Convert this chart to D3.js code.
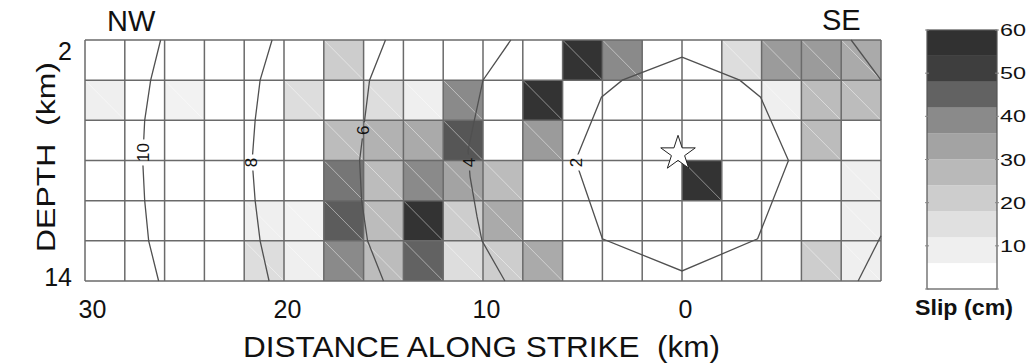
<!DOCTYPE html>
<html><head><meta charset="utf-8">
<script src="https://cdn.jsdelivr.net/npm/d3@7"></script>
<style>
html,body{margin:0;padding:0;background:#fff;}
svg{display:block;}
text{font-family:"Liberation Sans",Arial,Helvetica,sans-serif;fill:#111;}
.pre{white-space:pre;}
</style></head><body>
<svg id="chart" width="1028" height="363"></svg>
<script>
// ---- data ----
const colCenters = [29,27,25,23,21,19,17,15,13,11,9,7,5,3,1,-1,-3,-5,-7,-9]; // km along strike
const rowCenters = [3,5,7,9,11,13]; // depth km
const slip3km  = [0,0,0,0,0,0,21,0,0,0,0,0,56,39,0,0,16,35,35,31];
const slip5km  = [9,0,8,0,0,16,0,16,9,39,0,56,0,0,0,0,0,9,26,26];
const slip7km  = [0,0,0,0,0,0,26,29,31,47,0,35,0,0,0,0,0,0,26,0];
const slip9km  = [0,0,0,0,0,0,42,26,39,33,26,0,0,0,0,56,0,0,0,9];
const slip11km = [0,0,0,0,9,8,46,26,56,21,31,0,0,0,0,0,0,0,0,9];
const slip13km = [0,0,0,0,16,9,39,26,45,16,21,31,0,0,0,0,0,0,21,9];
const xTicks = [30,20,10,0];
const yTicks = [2,14];
const legendTicks = [0,10,20,30,40,50,60];
const bandMids = [3,9,15,21,27,33,39,45,51,57];
const bandGrays = ["#ffffff","#efefef","#e0e0e0","#cdcdcd","#b9b9b9","#a3a3a3","#8a8a8a","#626262","#3e3e3e","#313131"];
// rupture-time contours (km along strike, depth km)
const contour10 = [[26.2,2],[26.7,4],[27.0,6],[27.1,8],[27.0,10],[26.8,12],[26.3,14]];
const contour8  = [[20.6,2],[21.2,4],[21.45,6],[21.6,8],[21.45,10],[21.2,12],[20.75,14]];
const contour6  = [[14.9,2],[15.7,4],[15.95,6],[16.2,8],[16.1,10],[15.8,12],[15.0,14]];
const contour4  = [[8.6,2],[10.0,4],[10.5,6.3],[10.75,7.5],[10.65,8.8],[10.3,10.8],[10.05,12],[8.9,14]];
const contour2  = [[0,2.85],[-2.9,4],[-3.95,4.85],[-5.35,8],[-3.8,11.9],[0,13.5],[4.0,11.9],[5.35,8],[4.05,4.85],[3.0,4],[0,2.85]];
const contourTopSE = [[-8.5,2],[-10,4]];
const contourBotSE = [[-10,11.75],[-8.85,14]];
const contourLabels = [
  {t:"10", x:27.05, d:7.6},
  {t:"8",  x:21.65, d:8.1},
  {t:"6",  x:15.98, d:6.5},
  {t:"4",  x:10.7,  d:8.1},
  {t:"2",  x:5.3,   d:8.1}
];
const hypocenter = {x:0.2, d:7.65};

// ---- scales ----
const svg = d3.select("#chart");
const x = d3.scaleLinear().domain([30,-10]).range([85,881]);
const y = d3.scaleLinear().domain([2,14]).range([40,281]);
const color = d3.scaleLinear().domain(bandMids).range(bandGrays).clamp(true);

const slipRows = [slip3km, slip5km, slip7km, slip9km, slip11km, slip13km];
const cells = [];
rowCenters.forEach((r,i)=>colCenters.forEach((c,j)=>cells.push({c, r, v: slipRows[i][j]})));

// ---- cells ----
const gCells = svg.append("g");
gCells.selectAll("rect").data(cells).join("rect")
  .attr("x", d=>x(d.c+1)).attr("y", d=>y(d.r-1))
  .attr("width", d=>x(d.c-1)-x(d.c+1)).attr("height", d=>y(d.r+1)-y(d.r-1))
  .attr("fill", d=>color(d.v));
gCells.selectAll("line").data(cells.filter(d=>d.v>7)).join("line")
  .attr("x1", d=>x(d.c+1)+1).attr("y1", d=>y(d.r-1)+1)
  .attr("x2", d=>x(d.c-1)-1).attr("y2", d=>y(d.r+1)-1)
  .attr("stroke","#fff").attr("stroke-opacity",0.45).attr("stroke-width",1);

// ---- grid ----
const xEdges = d3.range(31, -11, -2).map(v=>v-1); // 30..-10
const yEdges = d3.range(2, 15, 2);
const gGrid = svg.append("g").attr("stroke","#6a6a6a").attr("stroke-width",1.5);
gGrid.selectAll("line.v").data(xEdges).join("line").attr("class","v")
  .attr("x1",d=>x(d)).attr("x2",d=>x(d)).attr("y1",y(2)).attr("y2",y(14));
gGrid.selectAll("line.h").data(yEdges).join("line").attr("class","h")
  .attr("x1",x(30)).attr("x2",x(-10)).attr("y1",d=>y(d)).attr("y2",d=>y(d));

// ---- contours ----
const defs = svg.append("defs");
const mask = defs.append("mask").attr("id","lblmask").attr("maskUnits","userSpaceOnUse")
  .attr("x",0).attr("y",0).attr("width",1028).attr("height",363);
mask.append("rect").attr("x",0).attr("y",0).attr("width",1028).attr("height",363).attr("fill","#fff");
mask.selectAll("rect.hole").data(contourLabels).join("rect").attr("class","hole")
  .attr("x", d=>x(d.x)-8).attr("width",16)
  .attr("y", d=>y(d.d)-(d.t.length*10+6)/2).attr("height", d=>d.t.length*10+6)
  .attr("fill","#000");

const line = d3.line().x(d=>x(d[0])).y(d=>y(d[1]));
svg.append("g").attr("mask","url(#lblmask)")
  .selectAll("path").data([contour10,contour8,contour6,contour4,contour2,contourTopSE,contourBotSE]).join("path")
  .attr("d", line).attr("fill","none").attr("stroke","#505050").attr("stroke-width",1.3);

svg.append("g").selectAll("text").data(contourLabels).join("text")
  .attr("transform", d=>`translate(${x(d.x)},${y(d.d)}) rotate(-90)`)
  .attr("text-anchor","middle").attr("dominant-baseline","central")
  .attr("font-size",17).attr("fill","#3a3a3a").text(d=>d.t);

// ---- hypocenter star ----
svg.append("path")
  .attr("d", d3.symbol(d3.symbolStar).size(370)())
  .attr("transform", `translate(${x(hypocenter.x)},${y(hypocenter.d)})`)
  .attr("fill","#fff").attr("stroke","#222").attr("stroke-width",1);

// ---- axes ----
const xAxis = svg.append("g").attr("transform",`translate(0,${y(14)})`)
  .call(d3.axisBottom(x).tickValues(xTicks).tickSize(0).tickPadding(19).tickFormat(d3.format("d")));
xAxis.select(".domain").remove();
xAxis.selectAll("text").attr("font-size",25).attr("fill","#111").attr("font-family",null)
  .attr("dx", d=> d===30 ? 7 : 3);

const yAxis = svg.append("g").attr("transform",`translate(${x(30)},0)`)
  .call(d3.axisLeft(y).tickValues(yTicks).tickSize(0).tickPadding(13).tickFormat(d3.format("d")));
yAxis.select(".domain").remove();
yAxis.selectAll("text").attr("font-size",25).attr("fill","#111").attr("font-family",null)
  .attr("dy", d=> d===2 ? "0.76em" : "0.16em");

svg.append("text").attr("class","pre").attr("x",243).attr("y",357).attr("font-size",30)
  .attr("textLength",477).attr("lengthAdjust","spacingAndGlyphs")
  .text("DISTANCE ALONG STRIKE  (km)");
svg.append("text").attr("class","pre").attr("transform","translate(55,157) rotate(-90)").attr("text-anchor","middle")
  .attr("font-size",25).attr("textLength",190).attr("lengthAdjust","spacingAndGlyphs")
  .text("DEPTH  (km)");
svg.append("text").attr("x",107).attr("y",31).attr("font-size",29).text("NW");
svg.append("text").attr("x",822).attr("y",30).attr("font-size",29).text("SE");

// ---- legend ----
const yl = d3.scaleLinear().domain([0,60]).range([289,30]);
const lx0 = 927, lx1 = 997;
const gL = svg.append("g");
gL.selectAll("rect").data(bandMids).join("rect")
  .attr("x",lx0).attr("width",lx1-lx0)
  .attr("y", d=>yl(d+3)).attr("height", d=>yl(d-3)-yl(d+3))
  .attr("fill", d=>color(d));
gL.append("rect").attr("x",lx0).attr("y",yl(60)).attr("width",lx1-lx0).attr("height",yl(0)-yl(60))
  .attr("fill","none").attr("stroke","#555").attr("stroke-width",1.2);
gL.selectAll("line.tl").data(legendTicks).join("line").attr("class","tl")
  .attr("x1",lx0-2).attr("x2",lx0+2).attr("y1",d=>yl(d)).attr("y2",d=>yl(d)).attr("stroke","#888");
gL.selectAll("line.tr").data(legendTicks).join("line").attr("class","tr")
  .attr("x1",lx1-2).attr("x2",lx1+2).attr("y1",d=>yl(d)).attr("y2",d=>yl(d)).attr("stroke","#888");
gL.selectAll("text").data(legendTicks.filter(d=>d>0)).join("text")
  .attr("x",1000).attr("y", d=>yl(d)).attr("dy","0.36em")
  .attr("font-size",17).attr("textLength",26).attr("lengthAdjust","spacingAndGlyphs")
  .attr("fill","#222").text(d=>d);
svg.append("text").attr("x",964).attr("y",315).attr("text-anchor","middle")
  .attr("font-size",22).attr("font-weight","bold").attr("textLength",98).attr("lengthAdjust","spacingAndGlyphs")
  .text("Slip (cm)");
</script>
</body></html>
